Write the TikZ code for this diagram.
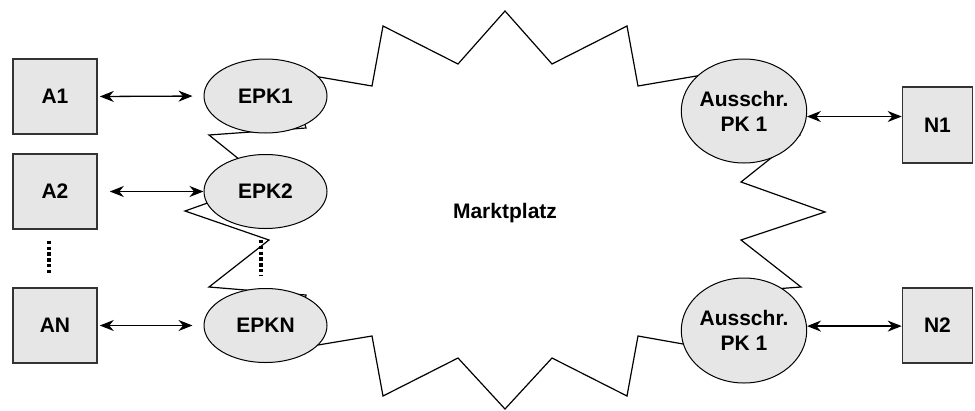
\documentclass[tikz,border=0pt]{standalone}
\usepackage{fontspec}
\setmainfont{Liberation Sans}
\usepackage{tikz}
\usetikzlibrary{positioning,calc,shapes.geometric,arrows.meta}
\definecolor{boxfill}{HTML}{e6e6e6}
\definecolor{boxline}{HTML}{333333}

\tikzset{
  lbl/.style={font=\bfseries\fontsize{21}{25}\selectfont},
  agent/.style={lbl, draw=boxline, line width=1.6pt, fill=boxfill, minimum width=84pt, minimum height=75pt, inner sep=0pt},
  pk/.style={lbl, ellipse, draw, line width=1pt, fill=boxfill, minimum width=123pt, minimum height=74pt, inner sep=0pt, align=center},
  link/.style={line width=1.3pt, {Stealth[length=14pt,width=11pt,inset=4.5pt]}-{Stealth[length=14pt,width=11pt,inset=4.5pt]}},
  more/.style={line width=3.4pt, dash pattern=on 3.4pt off 2.4pt}
}

\begin{document}
\begin{tikzpicture}[x=1pt, y=-1pt]
  \useasboundingbox (0,0) rectangle (975,410);

  % Marktplatz outline (drawn first, ellipses sit on top)
  \draw[line width=1.2pt, line join=miter]
    (290,72) -- (372,86) -- (383,26) -- (458,64) -- (505,11) -- (552,64) -- (627,26) -- (638,86)
    -- (720,72) -- (800,135) -- (741,182) -- (825,212) -- (741,240) -- (801,287)
    -- (720,293) -- (700,347) -- (638,336) -- (627,396) -- (552,358) -- (505,409) -- (458,358)
    -- (383,396) -- (372,336) -- (300,348) -- (306,295) -- (209,287) -- (269,240) -- (185,211)
    -- (230,195) -- (250,168) -- (209,135) -- (306,128) -- cycle;
  \node[lbl] (markt) at (505,213) {Marktplatz};

  % Anbieter and Einkaufs-PKs
  \node[agent] (a1) at (55,96.5) {A1};
  \node[agent] (a2) at (55,191.5) {A2};
  \node[agent] (an) at (55,325.5) {AN};

  \node[pk] (epk1) at (265.5,96) {EPK1};
  \node[pk] (epk2) at (265.5,191.5) {EPK2};
  \node[pk] (epkn) at (265.5,325.5) {EPKN};

  \draw[link, shorten <=2pt, shorten >=11pt] (a1.east) -- (epk1.west);
  \draw[link, shorten <=12pt] (a2.east) -- (epk2.west);
  \draw[link, shorten <=2pt, shorten >=11pt] (an.east) -- (epkn.west);

  \draw[more, shorten <=11pt, shorten >=12pt] ([xshift=-6pt]a2.south) -- ([xshift=-6pt]an.north);
  \draw[more, shorten <=11pt, shorten >=12pt] ([xshift=-4.5pt]epk2.south) -- ([xshift=-4.5pt]epkn.north);

  % Ausschreibungs-PKs and Nachfrager
  \node[pk, minimum width=124pt, minimum height=104pt] (pk1) at (744,111) {Ausschr.\\PK 1};
  \node[pk, minimum width=124pt, minimum height=105pt] (pk2) at (744,330.5) {Ausschr.\\PK 1};

  \node[agent, minimum width=70pt, minimum height=76pt] (n1) at (937.5,125) {N1};
  \node[agent, minimum width=70pt] (n2) at (937.5,325.5) {N2};

  \draw[link] (pk1.-5) -- (pk1.-5 -| n1.west);
  \draw[link] (pk2.4) -- (pk2.4 -| n2.west);
\end{tikzpicture}
\end{document}
